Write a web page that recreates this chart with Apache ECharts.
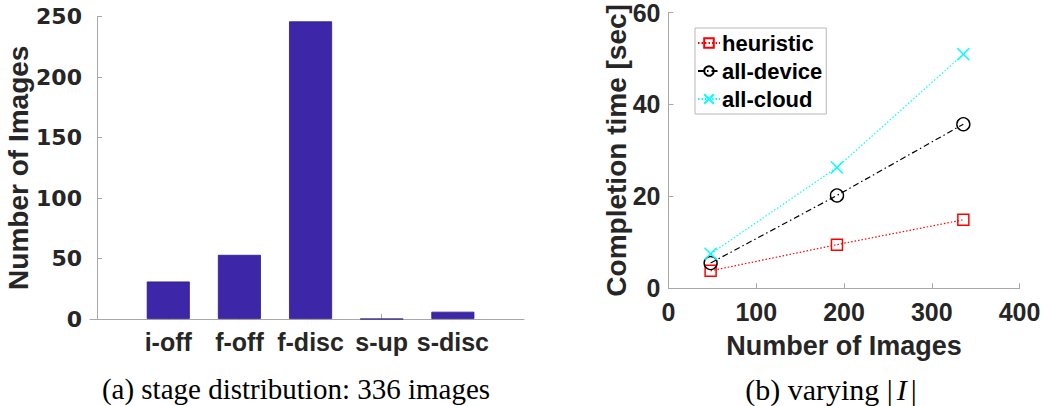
<!DOCTYPE html>
<html>
<head>
<meta charset="utf-8">
<script src="https://cdn.jsdelivr.net/npm/echarts@6/dist/echarts.min.js"></script>
<style>
  html, body { margin: 0; padding: 0; background: #fff; }
  #chart { width: 1044px; height: 406px; }
</style>
</head>
<body>
<div id="chart"></div>
<script>
// (a) how many images end in each stage
const stageNames = ['i-off', 'f-off', 'f-disc', 's-up', 's-disc'];
const stageCounts = [31, 53, 246, 0, 6];
const stageTicks = [1, 2, 3, 4, 5];

// (b) completion time versus number of images
const imageCounts = [48, 192, 336];
const heuristicTime = [3.8, 9.5, 14.9];
const allDeviceTime = [5.5, 20.2, 35.7];
const allCloudTime = [7.5, 26.3, 50.9];

const SANS = '"Liberation Sans", Arial, Helvetica, sans-serif';
const WIDE_SANS = '"DejaVu Sans", "Liberation Sans", sans-serif';
const SERIF = '"Liberation Serif", "Times New Roman", serif';
const INK = '#262626';
const AXIS = '#a8a8a8';

const chart = echarts.init(document.getElementById('chart'), null, { renderer: 'svg' });

const axisLineStyle = { show: true, lineStyle: { color: AXIS, width: 1 } };
const tickInside = { show: true, inside: true, length: 5, lineStyle: { color: AXIS, width: 1 } };
const tickText = (size, family) => ({ color: INK, fontFamily: family || SANS, fontWeight: 'bold', fontSize: size });

const crossPath = 'path://M0,0L10,10M10,0L0,10';

const option = {
  animation: false,
  backgroundColor: '#fff',
  grid: [
    { left: 90, top: 16.5, width: 434, height: 302.5, containLabel: false },
    { left: 668.5, top: 3.3, width: 351, height: 285, containLabel: false }
  ],
  xAxis: [
    {
      gridIndex: 0, type: 'value', min: -0.1, max: 6,
      axisLine: axisLineStyle,
      axisTick: Object.assign({ customValues: stageTicks }, tickInside),
      axisLabel: Object.assign({
        customValues: stageTicks, margin: 10,
        formatter: (v) => stageNames[Math.round(v) - 1] || ''
      }, tickText(25)),
      splitLine: { show: false }
    },
    {
      gridIndex: 1, type: 'value', min: 0, max: 400, interval: 100,
      axisLine: axisLineStyle,
      axisTick: tickInside,
      axisLabel: Object.assign({ margin: 11 }, tickText(25)),
      splitLine: { show: false },
      name: 'Number of Images', nameLocation: 'middle', nameGap: 44, nameMoveOverlap: false,
      nameTextStyle: { color: INK, fontFamily: SANS, fontWeight: 'bold', fontSize: 27 }
    }
  ],
  yAxis: [
    {
      gridIndex: 0, type: 'value', min: 0, max: 250, interval: 50,
      axisLine: axisLineStyle,
      axisTick: tickInside,
      axisLabel: Object.assign({ margin: 8 }, tickText(22, WIDE_SANS)),
      splitLine: { show: false },
      name: 'Number of Images', nameLocation: 'middle', nameGap: 58, nameMoveOverlap: false,
      nameTextStyle: { color: INK, fontFamily: SANS, fontWeight: 'bold', fontSize: 28 }
    },
    {
      gridIndex: 1, type: 'value', min: 0, max: 60, interval: 20,
      axisLine: axisLineStyle,
      axisTick: tickInside,
      axisLabel: Object.assign({ margin: 8 }, tickText(25)),
      splitLine: { show: false },
      name: 'Completion time [sec]', nameLocation: 'middle', nameGap: 38, nameMoveOverlap: false,
      nameTextStyle: { color: INK, fontFamily: SANS, fontWeight: 'bold', fontSize: 28 }
    }
  ],
  legend: {
    show: true,
    data: ['heuristic', 'all-device', 'all-cloud'],
    orient: 'vertical',
    left: 695, top: 28,
    padding: [3, 4, 3, 2],
    itemGap: 4,
    itemWidth: 22, itemHeight: 12,
    backgroundColor: '#fff',
    borderColor: '#b8b8b8', borderWidth: 1,
    textStyle: { color: '#000', fontFamily: SANS, fontWeight: 'bold', fontSize: 22, lineHeight: 24, padding: [0, 0, 0, -3] }
  },
  series: [
    {
      name: 'stages', type: 'bar', xAxisIndex: 0, yAxisIndex: 0,
      barWidth: 43,
      data: stageCounts.map((c, i) => [stageTicks[i], c]),
      itemStyle: { color: '#3e26a8', borderColor: '#2b1b86', borderWidth: 0.8 }
    },
    {
      name: 'heuristic', type: 'line', xAxisIndex: 1, yAxisIndex: 1,
      data: imageCounts.map((n, i) => [n, heuristicTime[i]]),
      symbol: 'rect', symbolSize: 11,
      lineStyle: { color: '#ff0000', width: 1.2, type: [1.5, 2] },
      itemStyle: { color: 'transparent', borderColor: '#ff0000', borderWidth: 1.5 }
    },
    {
      name: 'all-device', type: 'line', xAxisIndex: 1, yAxisIndex: 1,
      data: imageCounts.map((n, i) => [n, allDeviceTime[i]]),
      symbol: 'circle', symbolSize: 13,
      lineStyle: { color: '#000', width: 1.2, type: [6, 3, 1.5, 3] },
      itemStyle: { color: 'transparent', borderColor: '#000', borderWidth: 1.4 }
    },
    {
      name: 'all-cloud', type: 'line', xAxisIndex: 1, yAxisIndex: 1,
      data: imageCounts.map((n, i) => [n, allCloudTime[i]]),
      symbol: crossPath, symbolSize: 12,
      lineStyle: { color: '#00ffff', width: 1.2, type: [1.5, 2] },
      itemStyle: { color: 'transparent', borderColor: '#00ffff', borderWidth: 1.5 }
    }
  ],
  graphic: [
    {
      type: 'text',
      style: {
        x: 296, y: 389, text: '(a) stage distribution: 336 images',
        fill: '#000', font: '29px ' + SERIF, textAlign: 'center', textVerticalAlign: 'middle'
      }
    },
    {
      type: 'text',
      style: {
        x: 831, y: 389, text: '(b) varying |{i|I}|',
        fill: '#000', font: '30px ' + SERIF, textAlign: 'center', textVerticalAlign: 'middle',
        rich: { i: { fontStyle: 'italic', fontFamily: SERIF, fontSize: 30, fill: '#000', color: '#000', padding: [0, 4, 0, 4] } }
      }
    }
  ]
};

chart.setOption(option);
</script>
</body>
</html>
